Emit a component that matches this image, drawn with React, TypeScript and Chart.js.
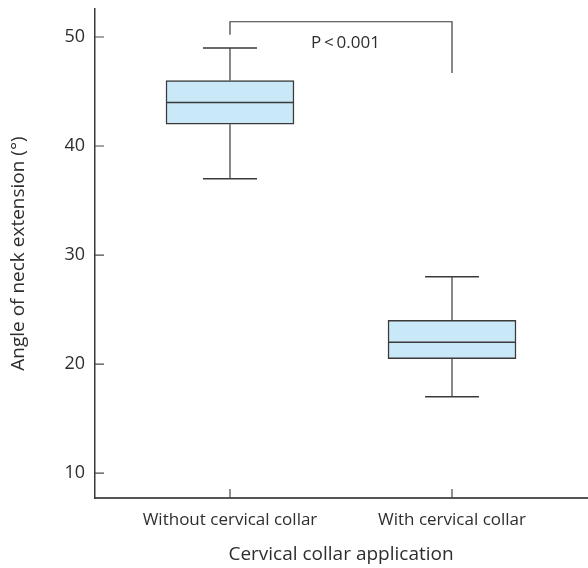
import React, { useEffect, useRef } from "react";
import { Chart, registerables } from "chart.js";

Chart.register(...registerables);

const categories = ["Without cervical collar", "With cervical collar"];
const whiskerLow = [37, 17];
const quartile1 = [42, 20.5];
const medians = [44, 22];
const quartile3 = [46, 24];
const whiskerHigh = [49, 28];
const yTickValues = [10, 20, 30, 40, 50];
const pLabel = "P\u2009<\u20090.001";
const bracketTop = 51.4;
const bracketLegEnds = [50.2, 46.7];
const pLabelY = 49.45;
const pLabelX = 1.52;

const FONT = "'Open Sans', 'Noto Sans', sans-serif";
const TEXT = "#2e2e2e";
const LINE = "#3a3a3a";

const extrasPlugin = {
  id: "boxExtras",
  afterDatasetsDraw(chart: any) {
    const { ctx, scales } = chart;
    const x = scales.x;
    const y = scales.y;
    ctx.save();
    ctx.strokeStyle = LINE;
    const boxHalf = 64;
    const capHalf = 27;
    categories.forEach((_, i) => {
      const cx = x.getPixelForValue(i + 1);
      ctx.lineWidth = 1.5;
      ctx.beginPath();
      ctx.moveTo(cx - boxHalf, y.getPixelForValue(medians[i]));
      ctx.lineTo(cx + boxHalf, y.getPixelForValue(medians[i]));
      ctx.stroke();
      ctx.lineWidth = 1.2;
      ctx.beginPath();
      ctx.moveTo(cx, y.getPixelForValue(quartile3[i]));
      ctx.lineTo(cx, y.getPixelForValue(whiskerHigh[i]));
      ctx.moveTo(cx, y.getPixelForValue(quartile1[i]));
      ctx.lineTo(cx, y.getPixelForValue(whiskerLow[i]));
      ctx.stroke();
      ctx.lineWidth = 1.5;
      ctx.beginPath();
      ctx.moveTo(cx - capHalf, y.getPixelForValue(whiskerHigh[i]));
      ctx.lineTo(cx + capHalf, y.getPixelForValue(whiskerHigh[i]));
      ctx.moveTo(cx - capHalf, y.getPixelForValue(whiskerLow[i]));
      ctx.lineTo(cx + capHalf, y.getPixelForValue(whiskerLow[i]));
      ctx.stroke();
    });
    const x1 = x.getPixelForValue(1);
    const x2 = x.getPixelForValue(2);
    const yt = y.getPixelForValue(bracketTop);
    ctx.lineWidth = 1.2;
    ctx.beginPath();
    ctx.moveTo(x1, y.getPixelForValue(bracketLegEnds[0]));
    ctx.lineTo(x1, yt);
    ctx.lineTo(x2, yt);
    ctx.lineTo(x2, y.getPixelForValue(bracketLegEnds[1]));
    ctx.stroke();
    ctx.fillStyle = TEXT;
    ctx.font = `17px ${FONT}`;
    ctx.textAlign = "center";
    ctx.textBaseline = "middle";
    ctx.fillText(pLabel, x.getPixelForValue(pLabelX), y.getPixelForValue(pLabelY));
    ctx.restore();
  },
  afterDraw(chart: any) {
    const { ctx, scales, chartArea } = chart;
    const x = scales.x;
    const y = scales.y;
    ctx.save();
    ctx.strokeStyle = "#4a4a4a";
    ctx.lineWidth = 1.2;
    ctx.beginPath();
    yTickValues.forEach((v) => {
      const py = y.getPixelForValue(v);
      ctx.moveTo(chartArea.left, py);
      ctx.lineTo(chartArea.left + 9, py);
    });
    categories.forEach((_, i) => {
      const px = x.getPixelForValue(i + 1);
      ctx.moveTo(px, chartArea.bottom);
      ctx.lineTo(px, chartArea.bottom - 9);
    });
    ctx.stroke();
    ctx.restore();
  },
};

export default function App() {
  const ref = useRef<HTMLCanvasElement | null>(null);
  useEffect(() => {
    if (!ref.current) return;
    const chart = new Chart(ref.current, {
      type: "bar",
      data: {
        datasets: [
          {
            data: categories.map((_, i) => ({ x: i + 1, y: [quartile1[i], quartile3[i]] })) as any,
            backgroundColor: "#c9e8f8",
            borderColor: LINE,
            borderWidth: 1.5,
            borderSkipped: false,
            barThickness: 128,
          },
        ],
      },
      options: {
        responsive: false,
        animation: false,
        layout: { padding: { top: 9, right: 1, left: 0, bottom: 0 } },
        plugins: { legend: { display: false }, tooltip: { enabled: false } },
        scales: {
          x: {
            type: "linear",
            offset: false,
            min: 0.392,
            max: 2.608,
            afterBuildTicks: (s: any) => {
              s.ticks = categories.map((_, i) => ({ value: i + 1 }));
            },
            afterFit: (s: any) => {
              s.height = 70;
              s.paddingLeft = 0;
              s.paddingRight = 0;
            },
            grid: { display: false, drawTicks: false, offset: false },
            border: { display: true, color: "#555555", width: 2 },
            ticks: {
              padding: 12,
              color: TEXT,
              font: { family: FONT, size: 17 },
              autoSkip: false,
              maxRotation: 0,
              callback: (v: any) => categories[Math.round(Number(v)) - 1] ?? "",
            },
            title: {
              display: true,
              text: "Cervical collar application",
              color: TEXT,
              font: { family: FONT, size: 19 },
              padding: { top: 0, bottom: 2 },
            },
          },
          y: {
            type: "linear",
            min: 7.71,
            max: 52.57,
            afterBuildTicks: (s: any) => {
              s.ticks = yTickValues.map((v) => ({ value: v }));
            },
            afterFit: (s: any) => {
              s.width = 95;
              s.paddingTop = 0;
              s.paddingBottom = 0;
            },
            grid: { display: false, drawTicks: false },
            border: { display: true, color: LINE, width: 1.5 },
            ticks: {
              padding: 10,
              color: TEXT,
              font: { family: FONT, size: 18 },
            },
            title: {
              display: true,
              text: "Angle of neck extension (°)",
              color: TEXT,
              font: { family: FONT, size: 19 },
              padding: { top: 7, bottom: 0 },
            },
          },
        },
      },
      plugins: [extrasPlugin],
    });
    return () => chart.destroy();
  }, []);
  return (
    <div style={{ position: "absolute", left: 0, top: 0, width: 588, height: 568, background: "#fff" }}>
      <canvas ref={ref} width={588} height={568} style={{ display: "block" }} />
    </div>
  );
}
